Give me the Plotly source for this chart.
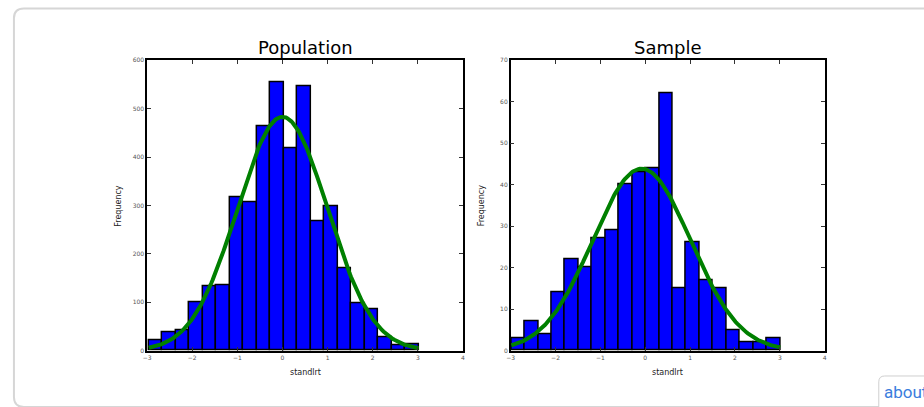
import numpy as np
import plotly.graph_objects as go

W, H = 924, 407

# Histogram counts (20 equal-width bins) for each panel
pop_counts = [22, 37, 43, 100, 133, 136, 316, 306, 464, 554,
              419, 547, 268, 298, 171, 98, 85, 28, 12, 13]
pop_range = (-2.96, 3.02)

smp_counts = [3, 7, 4, 14, 22, 20, 27, 29, 40, 43,
              44, 62, 15, 26, 17, 15, 5, 2, 2, 3]
smp_range = (-2.985, 3.01)

# Fitted normal parameters (mean, standard deviation) for the overlay curves
pop_fit = (0.0, 1.0)
smp_fit = (-0.08, 1.09)

x_ticks = [-3, -2, -1, 0, 1, 2, 3, 4]
pop_y_ticks = [0, 100, 200, 300, 400, 500, 600]
smp_y_ticks = [0, 10, 20, 30, 40, 50, 60, 70]

titles = ["Population", "Sample"]
x_label = "standlrt"
y_label = "Frequency"

FONT = "DejaVu Sans"


def px(x):
    return x / W


def py(y):
    return 1 - y / H


def bins(counts, rng):
    edges = np.linspace(rng[0], rng[1], len(counts) + 1)
    centers = (edges[:-1] + edges[1:]) / 2
    return edges, centers, edges[1] - edges[0]


def normal_curve(counts, rng, fit):
    mu, sd = fit
    edges, _, bw = bins(counts, rng)
    xs = np.linspace(edges[0], edges[-1], 200)
    ys = sum(counts) * bw * np.exp(-0.5 * ((xs - mu) / sd) ** 2) / (sd * np.sqrt(2 * np.pi))
    return xs, ys


fig = go.Figure()

panels = [
    (pop_counts, pop_range, pop_fit, pop_y_ticks, "x", "y", (144, 462)),
    (smp_counts, smp_range, smp_fit, smp_y_ticks, "x2", "y2", (510, 826)),
]

for counts, rng, fit, yt, xa, ya, _ in panels:
    edges, centers, bw = bins(counts, rng)
    fig.add_trace(go.Bar(
        x=centers, y=counts, width=bw,
        marker=dict(color="#0000ff", line=dict(color="black", width=1.5)),
        xaxis=xa, yaxis=ya, showlegend=False, hoverinfo="skip",
    ))
    cx, cy = normal_curve(counts, rng, fit)
    fig.add_trace(go.Scatter(
        x=cx, y=cy, mode="lines",
        line=dict(color="#008000", width=4),
        xaxis=xa, yaxis=ya, showlegend=False, hoverinfo="skip",
    ))

plot_top, plot_bottom = 57.3, 352.7

axis_common = dict(
    showline=True, linecolor="black", linewidth=1.5, mirror="ticks",
    ticks="inside", ticklen=4, tickwidth=1, tickcolor="#333",
    showgrid=False, zeroline=False, fixedrange=True,
    tickfont=dict(family=FONT, size=6, color="#555"),
)

layout_axes = {}
for i, (counts, rng, fit, yt, xa, ya, (x0, x1)) in enumerate(panels):
    xkey = "xaxis" if i == 0 else "xaxis2"
    ykey = "yaxis" if i == 0 else "yaxis2"
    layout_axes[xkey] = dict(
        axis_common, domain=[px(x0), px(x1)], range=[-3, 4],
        tickvals=x_ticks, anchor=ya,
    )
    layout_axes[ykey] = dict(
        axis_common, domain=[py(plot_bottom), py(plot_top)],
        range=[0, yt[-1]], tickvals=yt, anchor=xa,
    )

annotations = []
for (counts, rng, fit, yt, xa, ya, (x0, x1)), title in zip(panels, titles):
    cxp = (x0 + x1) / 2
    annotations.append(dict(
        text=title, x=px(cxp), y=py(44), xref="paper", yref="paper",
        xanchor="center", yanchor="middle", showarrow=False,
        font=dict(family=FONT, size=18, color="black"),
    ))
    annotations.append(dict(
        text=x_label, x=px(cxp), y=py(375), xref="paper", yref="paper",
        xanchor="center", yanchor="middle", showarrow=False,
        font=dict(family=FONT, size=8, color="#222"),
    ))
    annotations.append(dict(
        text=y_label, x=px(x0 - 29), y=py((plot_top + plot_bottom) / 2),
        xref="paper", yref="paper", textangle=-90,
        xanchor="center", yanchor="middle", showarrow=False,
        font=dict(family=FONT, size=8, color="#222"),
    ))

# "about" link button at the bottom-right corner
annotations.append(dict(
    text="about", x=px(884), y=py(395), xref="paper", yref="paper",
    xanchor="left", yanchor="middle", showarrow=False,
    font=dict(family="Roboto", size=17, color="#3b7ddd"),
))


def rounded_rect(x0, y0, x1, y1, r):
    return (
        f"M {px(x0 + r)} {py(y0)} L {px(x1 - r)} {py(y0)} "
        f"Q {px(x1)} {py(y0)} {px(x1)} {py(y0 + r)} "
        f"L {px(x1)} {py(y1 - r)} Q {px(x1)} {py(y1)} {px(x1 - r)} {py(y1)} "
        f"L {px(x0 + r)} {py(y1)} Q {px(x0)} {py(y1)} {px(x0)} {py(y1 - r)} "
        f"L {px(x0)} {py(y0 + r)} Q {px(x0)} {py(y0)} {px(x0 + r)} {py(y0)} Z"
    )


shapes = [
    dict(type="path", xref="paper", yref="paper", layer="below",
         path=rounded_rect(10, 4.5, 940, 410, 10),
         line=dict(color="#d6d6d6", width=2), fillcolor="rgba(0,0,0,0)"),
    dict(type="path", xref="paper", yref="paper",
         path=rounded_rect(880.5, 378.5, 960, 430, 6),
         line=dict(color="#cfcfcf", width=1), fillcolor="white"),
]

fig.update_layout(
    width=W, height=H,
    margin=dict(l=0, r=0, t=0, b=0),
    paper_bgcolor="white", plot_bgcolor="white",
    bargap=0, showlegend=False,
    annotations=annotations, shapes=shapes,
    **layout_axes,
)

fig.write_html("out.html", config={"displayModeBar": False})
